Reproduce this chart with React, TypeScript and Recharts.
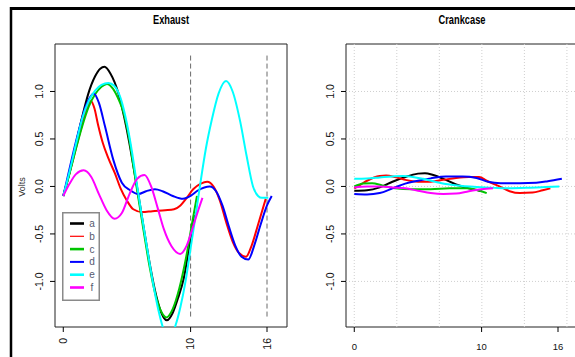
import { LineChart, Line, XAxis, YAxis, ReferenceLine, ReferenceArea, Legend } from 'recharts';

// Two-panel R-style sensor plot: Exhaust vs Crankcase voltages.
// Each series is a list of [position, volts] pairs.

type Pt = [number, number];

const SERIES_NAMES = ['a', 'b', 'c', 'd', 'e', 'f'];
const SERIES_COLORS = ['#000000', '#ff0000', '#00c400', '#0000ff', '#00ffff', '#ff00ff'];

// --- Exhaust ---
const exhaustA: Pt[] = [
  [0, -0.1], [0.5, 0.15], [1, 0.45], [1.5, 0.74], [1.95, 0.97], [2.5, 1.16], [2.9, 1.24], [3.24, 1.26],
  [3.7, 1.19], [4.33, 0.98], [4.8, 0.72], [5.2, 0.45], [5.55, 0.18], [5.85, -0.05], [6.3, -0.42],
  [6.8, -0.82], [7.3, -1.15], [7.7, -1.33], [8.13, -1.41], [8.6, -1.33], [9.0, -1.18], [9.44, -0.98],
  [9.9, -0.63], [10.3, -0.3],
];
const exhaustB: Pt[] = [
  [0, -0.1], [0.4, 0.1], [0.8, 0.3], [1.43, 0.63], [1.8, 0.8], [2.17, 0.9], [2.45, 0.82], [2.73, 0.65],
  [3.1, 0.46], [3.53, 0.3], [4.05, 0.14], [4.5, -0.02], [5.0, -0.15], [5.5, -0.24], [6.2, -0.27],
  [7, -0.26], [8, -0.25], [8.7, -0.24], [9.2, -0.2], [9.7, -0.12], [10.2, -0.03], [10.8, 0.03],
  [11.3, 0.05], [11.8, 0.0], [12.3, -0.15], [12.8, -0.38], [13.3, -0.58], [13.8, -0.7], [14.35, -0.74],
  [14.8, -0.62], [15.3, -0.4], [15.9, -0.13],
];
const exhaustC: Pt[] = [
  [0, -0.1], [0.5, 0.14], [1, 0.4], [1.5, 0.64], [2, 0.84], [2.5, 0.97], [3, 1.05], [3.43, 1.08],
  [3.9, 1.03], [4.3, 0.93], [4.73, 0.78], [5.18, 0.5], [5.5, 0.22], [5.8, -0.04], [6.3, -0.46],
  [6.8, -0.86], [7.3, -1.17], [7.7, -1.32], [8.1, -1.38], [8.6, -1.29], [9.1, -1.08], [9.6, -0.78],
  [10.1, -0.4], [10.5, -0.1],
];
const exhaustD: Pt[] = [
  [0, -0.1], [0.65, 0.28], [1.3, 0.63], [1.75, 0.84], [2.1, 0.94], [2.4, 0.98], [2.8, 0.88], [3.28, 0.63],
  [3.93, 0.28], [4.6, 0.04], [5.25, -0.04], [5.9, -0.08], [6.5, -0.05], [7.2, -0.03], [7.8, -0.05],
  [8.6, -0.1], [9.4, -0.13], [10, -0.1], [10.6, -0.04], [11.5, 0.0], [12, -0.05], [12.5, -0.2],
  [13, -0.42], [13.5, -0.62], [14, -0.74], [14.53, -0.77], [15, -0.62], [15.5, -0.4], [16, -0.2],
  [16.37, -0.1],
];
const exhaustE: Pt[] = [
  [0, -0.1], [0.5, 0.16], [1, 0.45], [1.5, 0.72], [2, 0.9], [2.5, 1.01], [3, 1.07], [3.55, 1.09],
  [4, 1.06], [4.5, 0.93], [5, 0.66], [5.4, 0.36], [5.75, 0.05], [6.1, -0.25], [6.5, -0.58], [7, -0.98],
  [7.5, -1.32], [8, -1.55], [8.35, -1.6], [8.8, -1.47], [9.2, -1.27], [9.6, -1.0], [10, -0.65],
  [10.4, -0.3], [10.75, 0.02], [11.2, 0.4], [11.66, 0.7], [12.2, 0.98], [12.78, 1.11], [13.3, 1.0],
  [13.9, 0.68], [14.4, 0.32], [14.9, 0.0], [15.3, -0.1], [15.6, -0.12], [16.1, -0.12],
];
const exhaustF: Pt[] = [
  [0, -0.1], [0.5, 0.03], [1, 0.13], [1.6, 0.17], [2.2, 0.1], [2.8, -0.08], [3.4, -0.25], [4.03, -0.34],
  [4.6, -0.28], [5.2, -0.08], [5.8, 0.08], [6.38, 0.12], [6.9, 0.0], [7.4, -0.22], [7.9, -0.45],
  [8.5, -0.63], [9.18, -0.71], [9.7, -0.62], [10.2, -0.42], [10.6, -0.25], [10.93, -0.12],
];

// --- Crankcase ---
const crankA: Pt[] = [
  [0, -0.045], [1, -0.04], [2, -0.01], [3, 0.05], [4, 0.1], [5, 0.135], [5.55, 0.14], [6.2, 0.12],
  [7, 0.08], [8, 0.02], [9, -0.02], [10, -0.05],
];
const crankB: Pt[] = [
  [0, -0.02], [0.5, 0.02], [1, 0.06], [2, 0.11], [2.5, 0.115], [3.2, 0.1], [4, 0.07], [5, 0.05],
  [6, 0.05], [7, 0.07], [8, 0.09], [9, 0.1], [9.8, 0.1], [10.4, 0.06], [11.4, 0.0], [12.2, -0.05],
  [13, -0.07], [14, -0.065], [14.8, -0.04], [15.4, -0.02],
];
const crankC: Pt[] = [
  [0, 0.0], [0.7, 0.03], [1.4, 0.035], [2.2, 0.01], [3.2, -0.02], [4.5, -0.03], [6, -0.03],
  [7.5, -0.02], [8.8, -0.02], [9.6, -0.035], [10.4, -0.07],
];
const crankD: Pt[] = [
  [0, -0.08], [1, -0.085], [2, -0.07], [3, -0.02], [4, 0.03], [5, 0.06], [6, 0.085], [7.2, 0.105],
  [8.5, 0.105], [9.6, 0.09], [10.5, 0.05], [11.5, 0.035], [13, 0.035], [14.3, 0.04], [15.2, 0.055],
  [16.3, 0.08],
];
const crankE: Pt[] = [
  [0, 0.08], [1, 0.085], [2, 0.095], [3, 0.105], [3.8, 0.11], [4.6, 0.1], [5.4, 0.08], [6.5, 0.045],
  [7.5, 0.02], [8.5, 0.005], [9.6, -0.005], [11, -0.015], [12, -0.02], [13.5, -0.015], [15, -0.005],
  [16.1, 0.0],
];
const crankF: Pt[] = [
  [0, -0.01], [1, 0.0], [2, 0.0], [3, -0.01], [4, -0.02], [5, -0.045], [6, -0.07], [7, -0.08],
  [8, -0.075], [9, -0.05], [10, -0.03], [10.9, -0.02],
];

const EXHAUST = [exhaustA, exhaustB, exhaustC, exhaustD, exhaustE, exhaustF];
const CRANKCASE = [crankA, crankB, crankC, crankD, crankE, crankF];

const Y_TICKS = [-1, -0.5, 0, 0.5, 1];
const X_TICKS = [0, 10, 16];
const MARKER_X = [10, 16];          // dashed cycle markers on the Exhaust panel
const GRID_X = [0, 3.34, 6.68, 10.02, 13.36, 16.7];
const GRID_Y = [-1, -0.5, 0, 0.5, 1];

const X_DOMAIN: [number, number] = [-0.65, 17.57];
const Y_DOMAIN: [number, number] = [-1.48, 1.5];

const FONT = '"Liberation Sans", Arial, sans-serif';
const LEGEND_W = [2.6, 1.2, 2.6, 2, 2.6, 2.6];

const toRows = (pts: Pt[]) => pts.map(([x, y]) => ({ x, y }));

// y labels run bottom-to-top, like R's default las=0
function YTick({ x, y, payload }: any) {
  const bx = x - 4.5;
  return (
    <text x={bx} y={y} transform={`rotate(-90 ${bx} ${y})`} textAnchor="middle"
      fontSize={10.5} fontFamily={FONT} fill="#111">
      {Number(payload.value).toFixed(1)}
    </text>
  );
}

// Exhaust x labels are perpendicular (las=2)
function XTickRot({ x, y, payload }: any) {
  const ax = x + 3.8;
  const ay = y + 4;
  return (
    <text x={ax} y={ay} transform={`rotate(-90 ${ax} ${ay})`} textAnchor="end"
      fontSize={10.5} fontFamily={FONT} fill="#111">
      {payload.value}
    </text>
  );
}

function XTickFlat({ x, y, payload }: any) {
  return (
    <text x={x} y={y + 16} textAnchor="middle" fontSize={9.5} fontFamily={FONT} fill="#111">
      {payload.value}
    </text>
  );
}

function LegendBox({ payload }: any) {
  const items = payload ?? [];
  return (
    <svg width={38} height={89} style={{ display: 'block' }}>
      <rect x={0.75} y={0.75} width={36.5} height={87.5} fill="#fff" stroke="#8a8a8a" strokeWidth={1.5} />
      {items.map((p: any, i: number) => {
        const cy = 11.5 + i * 12.8;
        return (
          <g key={p.value}>
            <line x1={8} x2={22} y1={cy} y2={cy} stroke={p.color} strokeWidth={LEGEND_W[i]} />
            <text x={30} y={cy + 3.5} textAnchor="middle" fontSize={10} fontFamily={FONT} fill="#555a70">
              {p.value}
            </text>
          </g>
        );
      })}
    </svg>
  );
}

function Panel({ series, exhaust }: { series: Pt[][]; exhaust: boolean }) {
  return (
    <LineChart width={300} height={357} margin={{ top: 44, right: 13, bottom: 0, left: 0 }}>
      <XAxis
        dataKey="x" type="number" domain={X_DOMAIN} allowDataOverflow
        ticks={X_TICKS} interval={0} height={30}
        axisLine={false} tickSize={5} tickLine={{ stroke: '#000' }}
        tick={exhaust ? <XTickRot /> : <XTickFlat />}
      />
      <YAxis
        dataKey="y" type="number" domain={Y_DOMAIN} allowDataOverflow
        ticks={Y_TICKS} interval={0} width={55}
        axisLine={false} tickSize={5} tickLine={{ stroke: '#000' }}
        tick={<YTick />}
      />

      {!exhaust && GRID_X.map(v => (
        <ReferenceLine key={`gx${v}`} x={v} stroke="#cfcfcf" strokeDasharray="1 2" />
      ))}
      {!exhaust && GRID_Y.map(v => (
        <ReferenceLine key={`gy${v}`} y={v} stroke="#cfcfcf" strokeDasharray="1 2" />
      ))}
      {exhaust && MARKER_X.map(v => (
        <ReferenceLine key={`m${v}`} segment={[{ x: v, y: -1.37 }, { x: v, y: 1.4 }]}
          stroke="#6a6a6a" strokeDasharray="5 3" />
      ))}

      <ReferenceArea x1={X_DOMAIN[0]} x2={X_DOMAIN[1]} y1={Y_DOMAIN[0]} y2={Y_DOMAIN[1]}
        fill="none" fillOpacity={0} stroke="#222" strokeWidth={1} />

      {series.map((pts, i) => (
        <Line
          key={SERIES_NAMES[i]}
          data={toRows(pts)}
          dataKey="y"
          name={SERIES_NAMES[i]}
          type="monotone"
          stroke={SERIES_COLORS[i]}
          strokeWidth={2}
          dot={false}
          activeDot={false}
          isAnimationActive={false}
        />
      ))}

      {exhaust && (
        <Legend
          layout="horizontal" align="center" verticalAlign="middle"
          wrapperStyle={{ left: 62, top: 212, width: 38, height: 89 }}
          content={<LegendBox />}
        />
      )}
    </LineChart>
  );
}

export default function App() {
  return (
    <div style={{
      position: 'fixed', left: 0, top: 0, width: 575, height: 357,
      overflow: 'hidden', background: '#fff', fontFamily: FONT,
    }}>
      <div style={{ position: 'absolute', left: 0, top: 0 }}>
        <Panel series={EXHAUST} exhaust />
      </div>
      <div style={{ position: 'absolute', left: 291, top: 0 }}>
        <Panel series={CRANKCASE} exhaust={false} />
      </div>

      <svg width={575} height={357} style={{ position: 'absolute', left: 0, top: 0, pointerEvents: 'none' }}>
        <line x1={10} x2={575} y1={8.5} y2={8.5} stroke="#000" strokeWidth={3} />
        <line x1={11} x2={11} y1={7} y2={357} stroke="#000" strokeWidth={2.5} />
        <text x={171} y={24} textAnchor="middle" fontSize={12.5} fontWeight="bold" fontFamily={FONT}
          textLength={36} lengthAdjust="spacingAndGlyphs" fill="#000">Exhaust</text>
        <text x={462} y={24} textAnchor="middle" fontSize={12.5} fontWeight="bold" fontFamily={FONT}
          textLength={47} lengthAdjust="spacingAndGlyphs" fill="#000">Crankcase</text>
        <text x={25} y={187} transform="rotate(-90 25 187)" textAnchor="middle" fontSize={9}
          fontFamily={FONT} fill="#333">Volts</text>
      </svg>
    </div>
  );
}
